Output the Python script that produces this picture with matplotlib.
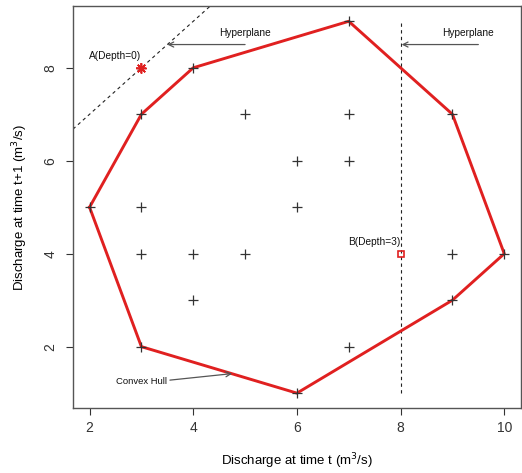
import matplotlib
matplotlib.use("Agg")
import matplotlib.pyplot as plt

plt.rcParams['font.family'] = ['Liberation Sans', 'DejaVu Sans']

# data points (discharge at t, discharge at t+1)
px = [4, 3, 5, 7, 7, 6, 7, 2, 3, 6, 3, 4, 5, 4, 3, 7, 6, 9, 10, 9, 9]
py = [8, 7, 7, 7, 9, 6, 6, 5, 5, 5, 4, 4, 4, 3, 2, 2, 1, 7, 4, 4, 3]

# convex hull vertices
hx = [2, 3, 4, 7, 9, 10, 9, 6, 3, 2]
hy = [5, 7, 8, 9, 7, 4, 3, 1, 2, 5]

pointA = (3, 8)
pointB = (8, 4)

fig = plt.figure(figsize=(5.22, 4.73), dpi=100)
ax = fig.add_axes([0.1398, 0.1374, 0.858, 0.849])

ax.plot(px, py, linestyle='none', marker='+', color='#333333', markersize=7, markeredgewidth=0.9, zorder=3)
ax.plot(hx, hy, color='#e02020', lw=2.1, zorder=2)

# red special points
ax.plot([pointA[0]], [pointA[1]], marker=(8, 2, 0), color='#e02020', markersize=7.5, markeredgewidth=1.1, linestyle='none', zorder=4)
ax.plot([pointA[0]], [pointA[1]], marker='+', color='#e02020', markersize=7.5, markeredgewidth=1.1, linestyle='none', zorder=4)
ax.plot([pointB[0]], [pointB[1]], marker='s', markerfacecolor='none', markeredgecolor='#e02020', markersize=5, markeredgewidth=1.2, linestyle='none', zorder=4)

# hyperplanes
ax.axline((0, 5), slope=1, color='#222222', lw=0.8, linestyle=(0, (3, 3)), zorder=1)
ax.plot([8, 8], [1, 9], color='#222222', lw=0.8, linestyle=(0, (3, 3)), zorder=1)

arrowprops = dict(arrowstyle='->', color='#555555', lw=0.9, shrinkA=0, shrinkB=0, mutation_scale=9)
ax.annotate('', xy=(3.5, 8.5), xytext=(5.0, 8.5), arrowprops=arrowprops)
ax.annotate('', xy=(8.02, 8.5), xytext=(9.5, 8.5), arrowprops=arrowprops)
ax.annotate('', xy=(4.75, 1.42), xytext=(3.55, 1.28), arrowprops=arrowprops)

ax.text(5.0, 8.75, 'Hyperplane', fontsize=7.3, ha='center', va='center', color='#111111')
ax.text(9.3, 8.75, 'Hyperplane', fontsize=7.3, ha='center', va='center', color='#111111')
ax.text(2.5, 8.25, 'A(Depth=0)', fontsize=7.3, ha='center', va='center', color='#111111')
ax.text(7.5, 4.25, 'B(Depth=3)', fontsize=7.3, ha='center', va='center', color='#111111')
ax.text(3.0, 1.25, 'Convex Hull', fontsize=6.8, ha='center', va='center', color='#111111')

ax.set_xlim(1.68, 10.32)
ax.set_ylim(0.68, 9.32)
ax.set_xticks([2, 4, 6, 8, 10])
ax.set_yticks([2, 4, 6, 8])
ax.tick_params(direction='out', length=5, width=0.8, labelsize=10, colors='#333333', pad=4)
ax.tick_params(axis='y', pad=6)
for lab in ax.get_yticklabels():
    lab.set_rotation(90)
    lab.set_va('center')
for s in ax.spines.values():
    s.set_color('#555555')
    s.set_linewidth(1.0)

ax.set_xlabel('Discharge at time t (m$^3$/s)', fontsize=9.5, labelpad=12)
ax.set_ylabel('Discharge at time t+1 (m$^3$/s)', fontsize=9.5, labelpad=10)

fig.savefig('out.png', dpi=100)
